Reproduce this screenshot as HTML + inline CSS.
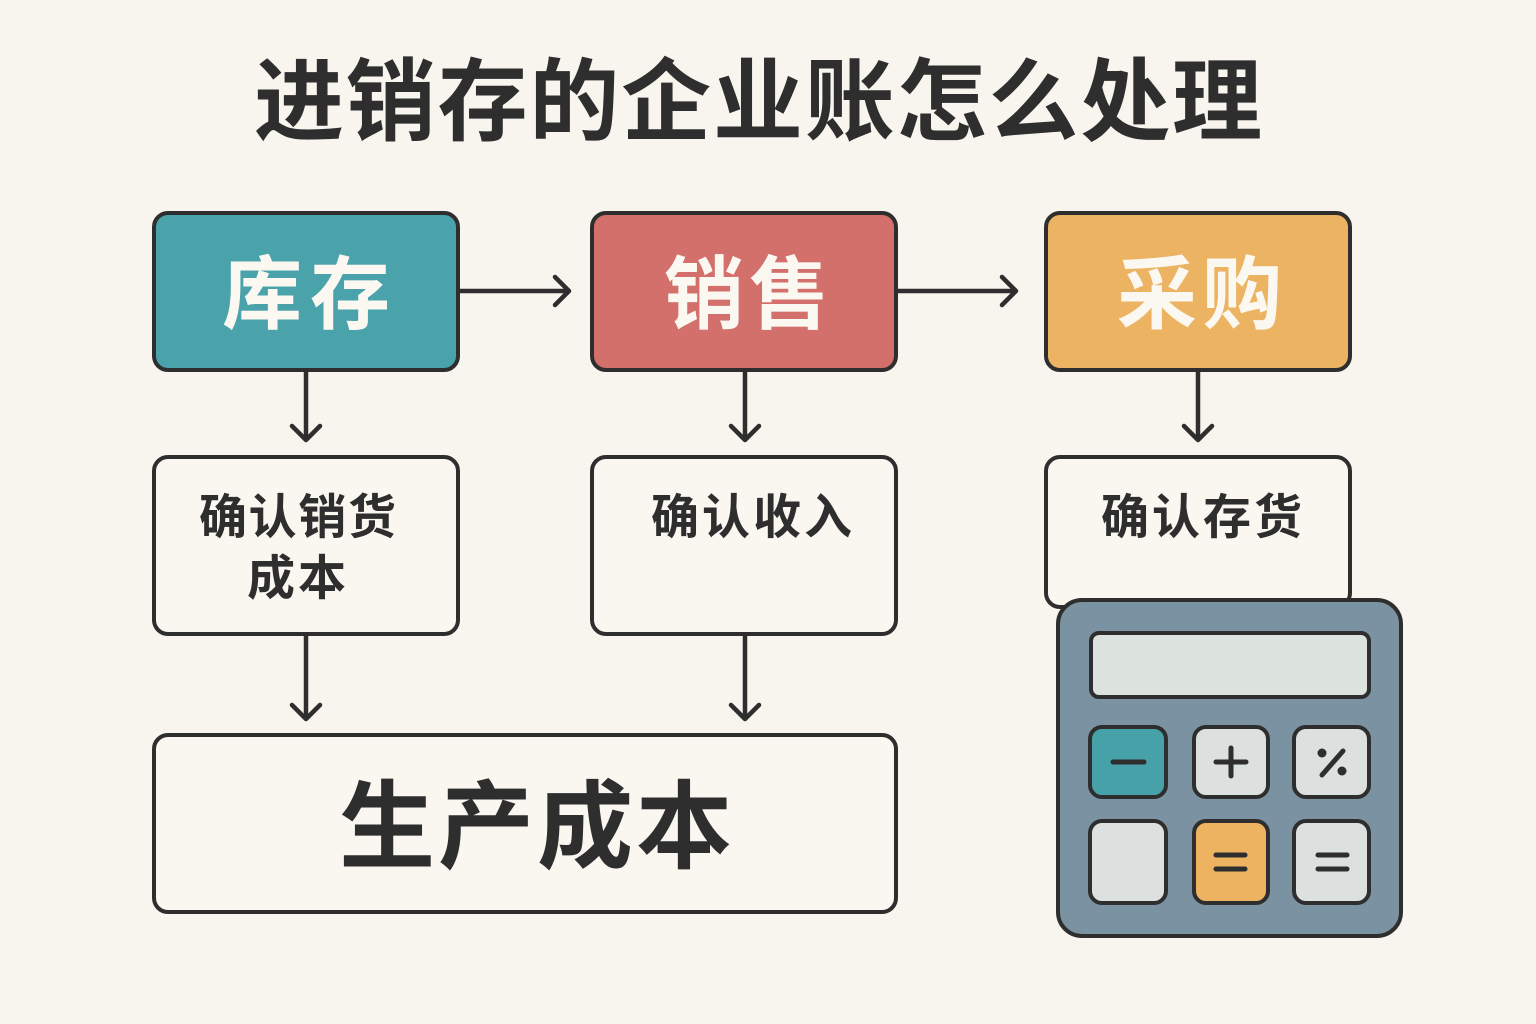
<!DOCTYPE html>
<html>
<head>
<meta charset="utf-8">
<style>
  html,body{margin:0;padding:0;background:#F8F5EF;}
  svg{display:block;}
  text{font-family:"Liberation Sans","Noto Sans CJK SC",sans-serif;font-weight:700;}
</style>
</head>
<body>
<svg width="1536" height="1024" viewBox="0 0 1536 1024" xmlns="http://www.w3.org/2000/svg">
  <rect x="0" y="0" width="1536" height="1024" fill="#F8F5EF"/>

  <!-- Title -->
  <text x="254" y="103" font-size="90" fill="#2E2E2E" dominant-baseline="central" textLength="1008" lengthAdjust="spacing">进销存的企业账怎么处理</text>

  <g stroke="#2E2E2E" stroke-width="4.5" stroke-linecap="round" stroke-linejoin="round" fill="none">
    <!-- horizontal arrows -->
    <line x1="458" y1="291" x2="568" y2="291"/>
    <polyline points="555,277 569,291 555,305"/>
    <line x1="896" y1="291" x2="1015" y2="291"/>
    <polyline points="1002,277 1016,291 1002,305"/>
    <!-- down arrows row 1 -->
    <line x1="306" y1="371" x2="306" y2="439"/>
    <polyline points="292,426 306,440 320,426"/>
    <line x1="745" y1="371" x2="745" y2="439"/>
    <polyline points="731,426 745,440 759,426"/>
    <line x1="1198" y1="371" x2="1198" y2="439"/>
    <polyline points="1184,426 1198,440 1212,426"/>
    <!-- down arrows row 2 -->
    <line x1="306" y1="635" x2="306" y2="718"/>
    <polyline points="292,705 306,719 320,705"/>
    <line x1="745" y1="635" x2="745" y2="718"/>
    <polyline points="731,705 745,719 759,705"/>
  </g>

  <!-- Top colored boxes -->
  <rect x="154" y="213" width="304" height="157" rx="14" fill="#4AA3AB" stroke="#2E2E2E" stroke-width="4"/>
  <rect x="592" y="213" width="304" height="157" rx="14" fill="#D3706B" stroke="#2E2E2E" stroke-width="4"/>
  <rect x="1046" y="213" width="304" height="157" rx="14" fill="#ECB462" stroke="#2E2E2E" stroke-width="4"/>

  <text x="222" y="295" font-size="80" fill="#FBF8F2" dominant-baseline="central" textLength="168" lengthAdjust="spacing">库存</text>
  <text x="664" y="295" font-size="80" fill="#FBF8F2" dominant-baseline="central" textLength="165" lengthAdjust="spacing">销售</text>
  <text x="1117" y="295" font-size="80" fill="#FBF8F2" dominant-baseline="central" textLength="165" lengthAdjust="spacing">采购</text>

  <!-- Row 2 boxes -->
  <rect x="154" y="457" width="304" height="177" rx="14" fill="#FAF7F1" stroke="#2E2E2E" stroke-width="4"/>
  <rect x="592" y="457" width="304" height="177" rx="14" fill="#FAF7F1" stroke="#2E2E2E" stroke-width="4"/>
  <rect x="1046" y="457" width="304" height="150" rx="14" fill="#FAF7F1" stroke="#2E2E2E" stroke-width="4"/>

  <text x="199" y="518" font-size="48" fill="#2E2E2E" dominant-baseline="central" textLength="197" lengthAdjust="spacing">确认销货</text>
  <text x="247" y="579" font-size="48" fill="#2E2E2E" dominant-baseline="central" textLength="99" lengthAdjust="spacing">成本</text>
  <text x="651" y="518" font-size="48" fill="#2E2E2E" dominant-baseline="central" textLength="201" lengthAdjust="spacing">确认收入</text>
  <text x="1101" y="518" font-size="48" fill="#2E2E2E" dominant-baseline="central" textLength="201" lengthAdjust="spacing">确认存货</text>

  <!-- Bottom box -->
  <rect x="154" y="735" width="742" height="177" rx="14" fill="#FAF7F1" stroke="#2E2E2E" stroke-width="4"/>
  <text x="339" y="828" font-size="96" fill="#2E2E2E" dominant-baseline="central" textLength="393" lengthAdjust="spacing">生产成本</text>

  <!-- Calculator -->
  <rect x="1058" y="600" width="343" height="336" rx="24" fill="#7A92A2" stroke="#2E2E2E" stroke-width="4"/>
  <rect x="1091" y="633" width="278" height="64" rx="8" fill="#DCE3DF" stroke="#2E2E2E" stroke-width="4"/>

  <g stroke="#2E2E2E" stroke-width="4">
    <rect x="1090" y="727" width="76" height="70" rx="12" fill="#47A1A8"/>
    <rect x="1194" y="727" width="74" height="70" rx="12" fill="#DCE0DE"/>
    <rect x="1294" y="727" width="75" height="70" rx="12" fill="#DCE0DE"/>
    <rect x="1090" y="821" width="76" height="82" rx="12" fill="#DCE0DE"/>
    <rect x="1194" y="821" width="74" height="82" rx="12" fill="#EDB361"/>
    <rect x="1294" y="821" width="75" height="82" rx="12" fill="#DCE0DE"/>
  </g>

  <g stroke="#2E2E2E" stroke-width="5" stroke-linecap="round" fill="none">
    <line x1="1113" y1="762" x2="1144" y2="762"/>
    <line x1="1216" y1="762" x2="1246" y2="762"/>
    <line x1="1231" y1="748" x2="1231" y2="776"/>
    <line x1="1343" y1="751" x2="1322" y2="775"/>
    <line x1="1216" y1="855" x2="1245" y2="855"/>
    <line x1="1216" y1="869" x2="1245" y2="869"/>
    <line x1="1318" y1="855" x2="1347" y2="855"/>
    <line x1="1318" y1="869" x2="1347" y2="869"/>
  </g>
  <circle cx="1322" cy="753" r="4.5" fill="#2E2E2E"/>
  <circle cx="1342" cy="771" r="4.5" fill="#2E2E2E"/>
</svg>
</body>
</html>
